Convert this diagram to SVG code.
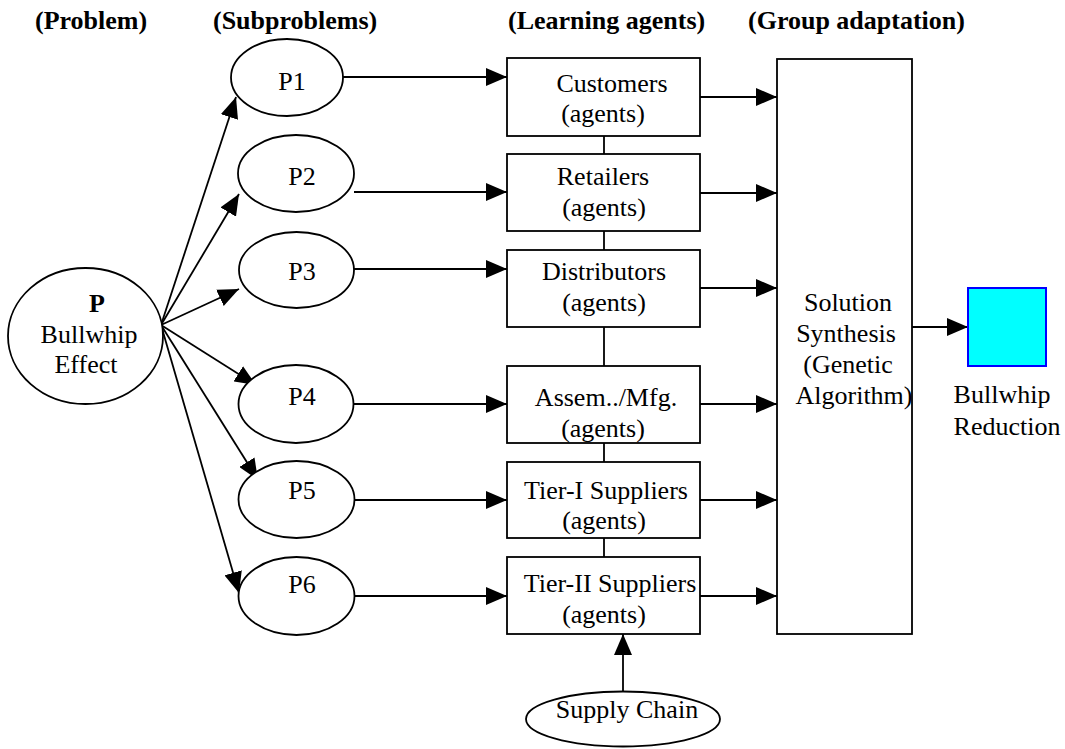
<svg xmlns="http://www.w3.org/2000/svg" width="1065" height="749" viewBox="0 0 1065 749">
<style>
text{font-family:"Liberation Serif","Times New Roman",serif;font-size:26px;fill:#000}
.h{font-weight:bold}
.c{text-anchor:middle}
.s{fill:#fff;stroke:#000;stroke-width:1.8}
.l{stroke:#000;stroke-width:1.8;fill:none}
.a{marker-end:url(#ah)}
</style>
<defs>
<marker id="ah" markerUnits="userSpaceOnUse" markerWidth="21" markerHeight="18" refX="21" refY="9" orient="auto">
<path d="M0,0 L21,9 L0,18 z" fill="#000"/>
</marker>
</defs>
<rect width="1065" height="749" fill="#fff"/>
<g id="headers">
<text class="h" x="35" y="29">(Problem)</text>
<text class="h" x="213" y="29">(Subproblems)</text>
<text class="h" x="508" y="29">(Learning agents)</text>
<text class="h" x="748" y="29">(Group adaptation)</text>
</g>
<g id="connectors">
<line class="l a" x1="161" y1="325" x2="236" y2="97"/>
<line class="l a" x1="161" y1="325" x2="239" y2="194"/>
<line class="l a" x1="161" y1="325" x2="239" y2="289"/>
<line class="l a" x1="161" y1="325" x2="256" y2="385"/>
<line class="l a" x1="161" y1="325" x2="258" y2="480"/>
<line class="l a" x1="161" y1="325" x2="239" y2="593"/>
<line class="l a" x1="343" y1="77" x2="507" y2="77"/>
<line class="l a" x1="354" y1="192" x2="507" y2="192"/>
<line class="l a" x1="354" y1="269" x2="507" y2="269"/>
<line class="l a" x1="353" y1="404" x2="507" y2="404"/>
<line class="l a" x1="355" y1="500" x2="507" y2="500"/>
<line class="l a" x1="355" y1="596" x2="507" y2="596"/>
<line class="l" x1="604" y1="136" x2="604" y2="154"/>
<line class="l" x1="604" y1="231" x2="604" y2="250"/>
<line class="l" x1="604" y1="327" x2="604" y2="366"/>
<line class="l" x1="604" y1="443" x2="604" y2="462"/>
<line class="l" x1="604" y1="538" x2="604" y2="557"/>
<line class="l a" x1="700" y1="97" x2="777" y2="97"/>
<line class="l a" x1="700" y1="193" x2="777" y2="193"/>
<line class="l a" x1="700" y1="288" x2="777" y2="288"/>
<line class="l a" x1="700" y1="404" x2="777" y2="404"/>
<line class="l a" x1="700" y1="500" x2="777" y2="500"/>
<line class="l a" x1="700" y1="596" x2="777" y2="596"/>
<line class="l a" x1="912" y1="327" x2="968" y2="327"/>
<line class="l a" x1="623" y1="692" x2="623" y2="634"/>
</g>
<g id="P">
<ellipse class="s" cx="85.5" cy="336" rx="77.5" ry="68"/>
<text class="h c" x="97" y="312">P</text>
<text class="c" x="89" y="343">Bullwhip</text>
<text class="c" x="86" y="373">Effect</text>
</g>
<g id="P1"><ellipse class="s" cx="287" cy="77.5" rx="56" ry="38.5"/><text class="c" x="292" y="90">P1</text></g>
<g id="P2"><ellipse class="s" cx="296" cy="173.5" rx="58" ry="38.5"/><text class="c" x="302" y="185">P2</text></g>
<g id="P3"><ellipse class="s" cx="296.5" cy="270" rx="57.5" ry="38"/><text class="c" x="302" y="280">P3</text></g>
<g id="P4"><ellipse class="s" cx="296" cy="404" rx="57.5" ry="39"/><text class="c" x="302" y="405">P4</text></g>
<g id="P5"><ellipse class="s" cx="296.5" cy="499.5" rx="58" ry="38.5"/><text class="c" x="302" y="499">P5</text></g>
<g id="P6"><ellipse class="s" cx="296.5" cy="596" rx="58" ry="39"/><text class="c" x="302" y="593">P6</text></g>
<g id="customers"><rect class="s" x="507" y="58" width="193" height="78"/><text class="c" x="612" y="92">Customers</text><text class="c" x="603" y="122">(agents)</text></g>
<g id="retailers"><rect class="s" x="507" y="154" width="193" height="77"/><text class="c" x="603" y="185">Retailers</text><text class="c" x="604" y="216">(agents)</text></g>
<g id="distributors"><rect class="s" x="507" y="250" width="193" height="77"/><text class="c" x="604" y="280">Distributors</text><text class="c" x="604" y="311">(agents)</text></g>
<g id="assem"><rect class="s" x="507" y="366" width="193" height="77"/><text class="c" x="606" y="406">Assem../Mfg.</text><text class="c" x="603" y="437">(agents)</text></g>
<g id="tier1"><rect class="s" x="507" y="462" width="193" height="76"/><text class="c" x="606" y="499">Tier-I Suppliers</text><text class="c" x="604" y="529">(agents)</text></g>
<g id="tier2"><rect class="s" x="507" y="557" width="193" height="77"/><text class="c" x="610" y="592">Tier-II Suppliers</text><text class="c" x="604" y="623">(agents)</text></g>
<g id="solution"><rect class="s" x="777" y="59" width="135" height="575"/>
<text class="c" x="848" y="311">Solution</text>
<text class="c" x="846" y="342">Synthesis</text>
<text class="c" x="848" y="373">(Genetic</text>
<text class="c" x="854" y="404">Algorithm)</text>
</g>
<g id="reduction"><rect x="968" y="288" width="78" height="78" fill="#00ffff" stroke="#0000ff" stroke-width="2"/>
<text class="c" x="1002" y="403">Bullwhip</text>
<text class="c" x="1007" y="435">Reduction</text>
</g>
<g id="supplychain"><ellipse class="s" cx="623" cy="719" rx="97" ry="27.5"/><text class="c" x="627" y="718">Supply Chain</text></g>
</svg>
